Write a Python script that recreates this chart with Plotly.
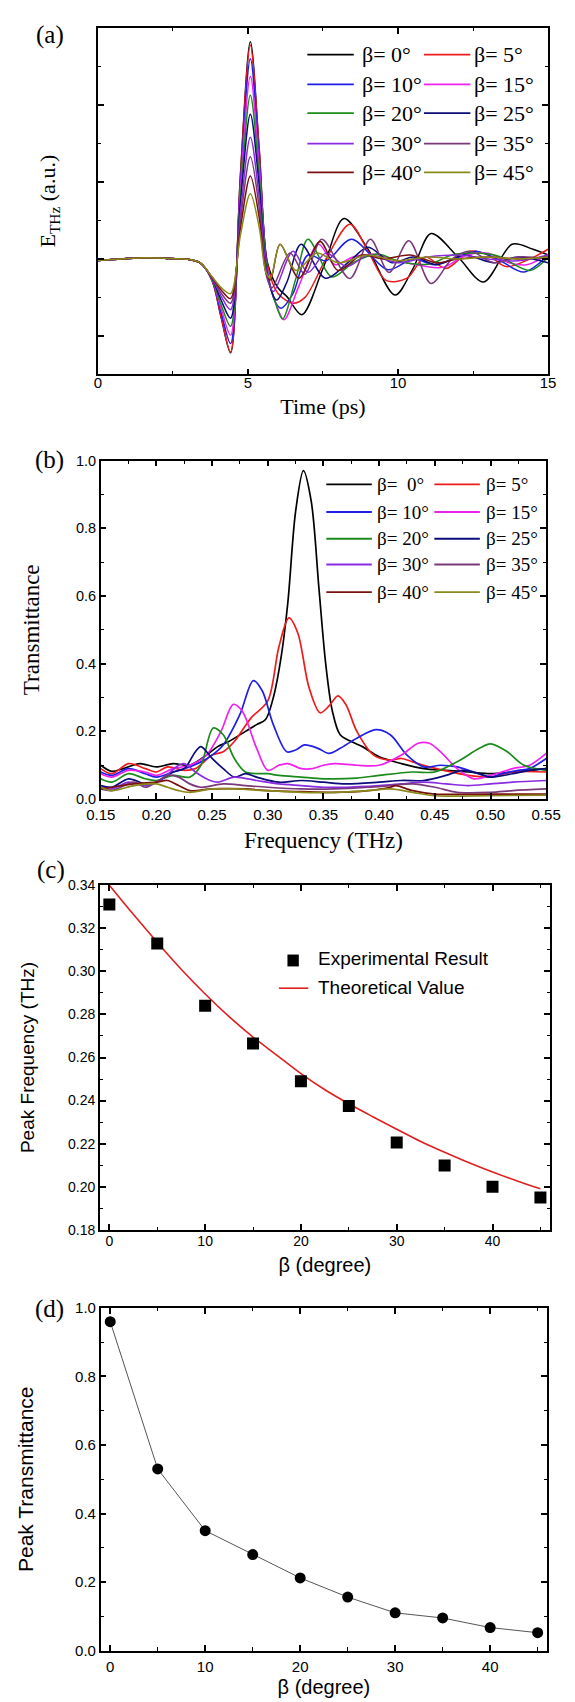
import plotly.graph_objects as go

W, H = 575, 1702

# ---------------- Panel (a): THz time-domain waveforms ----------------
betas = [0, 5, 10, 15, 20, 25, 30, 35, 40, 45]
colors = ["#000000", "#ee1c1c", "#1f1fe6", "#f020f0", "#1a8a1a",
          "#0b0b7a", "#8a2be2", "#7a3a7a", "#7a1010", "#8a8a1a"]

t_pulse = [0, 0.8, 1.6, 2.4, 3.0, 3.4, 3.8, 4.1, 4.42, 4.75, 5.08, 5.38]
pulse_b0 = [-0.04, 0.00, 0.03, 0.01, -0.01, -0.10, -0.55, -1.50, -2.44, 2.20, 5.64, 2.80]
pulse_b5 = [-0.04, 0.00, 0.03, 0.01, -0.01, -0.10, -0.55, -1.48, -2.42, 2.15, 5.55, 2.75]
pulse_b10 = [-0.04, 0.00, 0.03, 0.01, -0.01, -0.10, -0.54, -1.38, -2.20, 2.00, 5.20, 2.55]
pulse_b15 = [-0.04, 0.00, 0.03, 0.01, -0.01, -0.10, -0.53, -1.28, -1.98, 1.85, 4.74, 2.35]
pulse_b20 = [-0.04, 0.00, 0.03, 0.01, -0.01, -0.10, -0.52, -1.18, -1.75, 1.65, 4.25, 2.10]
pulse_b25 = [-0.04, 0.00, 0.03, 0.01, -0.01, -0.10, -0.50, -1.06, -1.54, 1.45, 3.76, 1.85]
pulse_b30 = [-0.04, 0.00, 0.03, 0.01, -0.01, -0.10, -0.49, -0.96, -1.32, 1.20, 3.16, 1.55]
pulse_b35 = [-0.04, 0.00, 0.03, 0.01, -0.01, -0.10, -0.48, -0.88, -1.15, 1.00, 2.65, 1.30]
pulse_b40 = [-0.04, 0.00, 0.03, 0.01, -0.01, -0.10, -0.47, -0.80, -1.03, 0.80, 2.15, 1.05]
pulse_b45 = [-0.04, 0.00, 0.03, 0.01, -0.01, -0.10, -0.46, -0.74, -0.90, 0.62, 1.69, 0.80]

tail_t_b0 = [5.65, 6.0, 6.3, 6.8, 7.5, 8.2, 9.0, 9.9, 10.5, 11.1, 12.0, 12.85, 13.8, 14.5, 15.0]
tail_y_b0 = [-0.10, -0.75, -0.98, -1.45, -0.25, 1.05, 0.25, -0.94, -0.25, 0.66, 0.05, -0.60, 0.38, 0.25, 0.10]
tail_t_b5 = [5.65, 6.0, 6.5, 6.9, 7.6, 8.4, 9.0, 9.6, 10.3, 10.9, 11.6, 12.4, 13.0, 13.6, 14.4, 15.0]
tail_y_b5 = [-0.15, -0.90, -1.15, -1.00, 0.00, 0.90, 0.20, -0.56, -0.50, 0.05, -0.25, 0.20, 0.10, -0.20, 0.00, 0.25]
tail_t_b10 = [5.65, 5.9, 6.1, 6.5, 7.0, 7.6, 8.45, 9.66, 10.5, 11.2, 12.0, 12.6, 13.3, 14.2, 15.0]
tail_y_b10 = [-0.30, -1.10, -1.28, -0.90, 0.10, -0.05, 0.51, -0.28, 0.00, -0.15, 0.05, 0.20, 0.00, -0.34, 0.10]
tail_t_b15 = [5.65, 5.9, 6.2, 6.7, 7.35, 7.9, 8.5, 9.2, 10.0, 10.8, 11.5, 12.3, 13.0, 13.7, 14.3, 15.0]
tail_y_b15 = [-0.40, -1.10, -1.58, -0.70, 0.38, -0.15, 0.05, 0.12, -0.05, -0.18, -0.22, 0.10, 0.15, -0.10, -0.15, 0.12]
tail_t_b20 = [5.65, 5.9, 6.15, 6.6, 7.0, 7.8, 8.5, 9.3, 10.1, 11.05, 11.8, 12.5, 13.3, 14.4, 15.0]
tail_y_b20 = [-0.40, -1.10, -1.56, -0.50, 0.51, -0.47, -0.10, 0.13, -0.08, -0.13, 0.10, 0.15, 0.08, -0.30, 0.05]
tail_t_b25 = [5.65, 5.96, 6.3, 6.77, 7.58, 8.4, 9.0, 9.8, 10.5, 11.3, 12.2, 13.2, 14.0, 15.0]
tail_y_b25 = [-0.45, -1.07, -0.60, 0.38, -0.50, -0.05, 0.30, -0.10, 0.05, -0.15, 0.10, -0.10, 0.05, -0.10]
tail_t_b30 = [5.65, 5.85, 6.5, 7.0, 7.6, 8.3, 9.0, 10.0, 11.0, 12.0, 13.0, 14.0, 15.0]
tail_y_b30 = [-0.50, -0.85, 0.20, -0.35, 0.15, -0.20, 0.10, -0.10, 0.05, 0.10, 0.00, -0.05, 0.10]
tail_t_b35 = [5.62, 5.8, 6.4, 6.9, 7.46, 8.39, 9.08, 9.7, 10.36, 11.1, 11.8, 12.4, 13.2, 14.0, 15.0]
tail_y_b35 = [-0.45, -0.75, 0.15, -0.40, 0.51, -0.51, 0.51, -0.35, 0.47, -0.64, 0.00, 0.20, -0.10, 0.05, 0.00]
tail_t_b40 = [5.6, 5.75, 6.07, 6.7, 7.4, 8.0, 8.8, 9.5, 10.4, 11.3, 12.0, 13.0, 14.0, 15.0]
tail_y_b40 = [-0.35, -0.55, 0.38, -0.50, 0.45, -0.30, 0.10, 0.00, 0.10, -0.10, 0.00, 0.05, 0.00, 0.05]
tail_t_b45 = [5.6, 5.75, 6.07, 6.6, 7.3, 8.0, 9.0, 10.0, 11.0, 12.0, 13.0, 14.0, 15.0]
tail_y_b45 = [-0.35, -0.50, 0.38, -0.30, 0.15, -0.10, 0.10, -0.05, 0.05, 0.00, 0.05, 0.00, 0.05]

pulses = [pulse_b0, pulse_b5, pulse_b10, pulse_b15, pulse_b20,
          pulse_b25, pulse_b30, pulse_b35, pulse_b40, pulse_b45]
tails_t = [tail_t_b0, tail_t_b5, tail_t_b10, tail_t_b15, tail_t_b20,
           tail_t_b25, tail_t_b30, tail_t_b35, tail_t_b40, tail_t_b45]
tails_y = [tail_y_b0, tail_y_b5, tail_y_b10, tail_y_b15, tail_y_b20,
           tail_y_b25, tail_y_b30, tail_y_b35, tail_y_b40, tail_y_b45]

# ---------------- Panel (b): transmittance spectra ----------------
f_b0 = [0.15, 0.16, 0.17, 0.185, 0.2, 0.215, 0.23, 0.245, 0.255, 0.265, 0.28, 0.29, 0.298, 0.305, 0.312, 0.318, 0.325, 0.332, 0.339, 0.346, 0.352, 0.358, 0.365, 0.375, 0.385, 0.40, 0.42, 0.44, 0.46, 0.48, 0.50, 0.52, 0.55]
T_b0 = [0.100, 0.082, 0.090, 0.105, 0.095, 0.105, 0.100, 0.130, 0.155, 0.170, 0.200, 0.220, 0.235, 0.300, 0.420, 0.580, 0.850, 0.970, 0.880, 0.620, 0.400, 0.260, 0.190, 0.170, 0.155, 0.125, 0.105, 0.090, 0.085, 0.080, 0.075, 0.080, 0.090]
f_b5 = [0.15, 0.16, 0.175, 0.19, 0.2, 0.21, 0.225, 0.235, 0.25, 0.26, 0.27, 0.285, 0.30, 0.31, 0.319, 0.327, 0.337, 0.347, 0.355, 0.363, 0.37, 0.38, 0.395, 0.41, 0.42, 0.43, 0.445, 0.465, 0.48, 0.50, 0.52, 0.55]
T_b5 = [0.090, 0.075, 0.105, 0.090, 0.080, 0.095, 0.085, 0.090, 0.130, 0.140, 0.170, 0.240, 0.290, 0.450, 0.535, 0.490, 0.330, 0.255, 0.275, 0.305, 0.280, 0.200, 0.130, 0.115, 0.120, 0.110, 0.095, 0.080, 0.070, 0.065, 0.080, 0.080]
f_b10 = [0.15, 0.16, 0.175, 0.19, 0.2, 0.215, 0.225, 0.24, 0.25, 0.26, 0.275, 0.287, 0.295, 0.305, 0.317, 0.325, 0.333, 0.345, 0.355, 0.365, 0.38, 0.397, 0.41, 0.425, 0.44, 0.455, 0.47, 0.485, 0.50, 0.51, 0.525, 0.535, 0.55]
T_b10 = [0.080, 0.070, 0.090, 0.075, 0.065, 0.080, 0.090, 0.110, 0.130, 0.160, 0.250, 0.350, 0.320, 0.220, 0.140, 0.145, 0.160, 0.150, 0.135, 0.150, 0.180, 0.205, 0.190, 0.130, 0.095, 0.100, 0.095, 0.080, 0.065, 0.075, 0.085, 0.090, 0.120]
f_b15 = [0.15, 0.16, 0.175, 0.19, 0.2, 0.215, 0.23, 0.245, 0.258, 0.269, 0.277, 0.29, 0.30, 0.31, 0.318, 0.33, 0.34, 0.35, 0.36, 0.38, 0.40, 0.42, 0.435, 0.445, 0.455, 0.47, 0.485, 0.50, 0.52, 0.535, 0.55]
T_b15 = [0.075, 0.065, 0.085, 0.080, 0.070, 0.090, 0.100, 0.130, 0.200, 0.280, 0.260, 0.150, 0.085, 0.100, 0.105, 0.090, 0.090, 0.100, 0.105, 0.100, 0.100, 0.130, 0.165, 0.165, 0.140, 0.090, 0.060, 0.070, 0.090, 0.100, 0.135]
f_b20 = [0.15, 0.16, 0.175, 0.19, 0.2, 0.215, 0.23, 0.24, 0.251, 0.26, 0.27, 0.28, 0.30, 0.31, 0.33, 0.35, 0.38, 0.40, 0.43, 0.45, 0.47, 0.49, 0.50, 0.515, 0.53, 0.55]
T_b20 = [0.060, 0.050, 0.075, 0.060, 0.055, 0.070, 0.065, 0.100, 0.210, 0.190, 0.120, 0.080, 0.075, 0.070, 0.065, 0.060, 0.062, 0.070, 0.080, 0.080, 0.110, 0.150, 0.163, 0.140, 0.100, 0.085]
f_b25 = [0.15, 0.16, 0.175, 0.19, 0.2, 0.215, 0.225, 0.235, 0.24, 0.25, 0.26, 0.27, 0.28, 0.29, 0.31, 0.33, 0.35, 0.37, 0.40, 0.42, 0.44, 0.46, 0.475, 0.49, 0.50, 0.52, 0.535, 0.55]
T_b25 = [0.040, 0.035, 0.060, 0.045, 0.050, 0.080, 0.090, 0.140, 0.155, 0.120, 0.090, 0.065, 0.075, 0.065, 0.050, 0.055, 0.050, 0.045, 0.050, 0.055, 0.055, 0.070, 0.085, 0.075, 0.065, 0.075, 0.085, 0.090]
f_b30 = [0.15, 0.16, 0.175, 0.19, 0.205, 0.22, 0.225, 0.235, 0.245, 0.255, 0.27, 0.29, 0.31, 0.33, 0.35, 0.37, 0.40, 0.42, 0.44, 0.46, 0.48, 0.50, 0.52, 0.55]
T_b30 = [0.035, 0.030, 0.050, 0.040, 0.060, 0.100, 0.105, 0.080, 0.060, 0.050, 0.065, 0.055, 0.045, 0.040, 0.035, 0.035, 0.040, 0.045, 0.050, 0.045, 0.040, 0.045, 0.050, 0.055]
f_b35 = [0.15, 0.16, 0.18, 0.19, 0.20, 0.21, 0.22, 0.23, 0.24, 0.26, 0.28, 0.30, 0.33, 0.36, 0.39, 0.41, 0.43, 0.45, 0.47, 0.50, 0.52, 0.55]
T_b35 = [0.030, 0.025, 0.050, 0.035, 0.050, 0.070, 0.065, 0.045, 0.035, 0.045, 0.040, 0.035, 0.030, 0.030, 0.035, 0.040, 0.045, 0.035, 0.020, 0.020, 0.025, 0.030]
f_b40 = [0.15, 0.16, 0.18, 0.20, 0.21, 0.22, 0.23, 0.25, 0.28, 0.30, 0.33, 0.36, 0.39, 0.41, 0.415, 0.43, 0.45, 0.50, 0.55]
T_b40 = [0.030, 0.035, 0.045, 0.050, 0.055, 0.040, 0.025, 0.030, 0.030, 0.025, 0.022, 0.020, 0.025, 0.035, 0.040, 0.025, 0.015, 0.015, 0.015]
f_b45 = [0.15, 0.16, 0.18, 0.20, 0.21, 0.22, 0.23, 0.25, 0.27, 0.30, 0.33, 0.36, 0.39, 0.41, 0.43, 0.45, 0.50, 0.55]
T_b45 = [0.035, 0.025, 0.040, 0.045, 0.035, 0.025, 0.020, 0.030, 0.030, 0.025, 0.020, 0.020, 0.025, 0.030, 0.020, 0.010, 0.010, 0.012]

freqs = [f_b0, f_b5, f_b10, f_b15, f_b20, f_b25, f_b30, f_b35, f_b40, f_b45]
trans = [T_b0, T_b5, T_b10, T_b15, T_b20, T_b25, T_b30, T_b35, T_b40, T_b45]

# ---------------- Panel (c): peak frequency ----------------
beta_pts = [0, 5, 10, 15, 20, 25, 30, 35, 40, 45]
peak_freq_exp = [0.331, 0.313, 0.284, 0.2665, 0.249, 0.2375, 0.2205, 0.2098, 0.200, 0.195]
beta_theory = [0, 2.5, 5, 7.5, 10, 12.5, 15, 17.5, 20, 22.5, 25, 27.5, 30, 32.5, 35, 37.5, 40, 42.5, 45]
peak_freq_theory = [0.340, 0.3265, 0.3135, 0.301, 0.2895, 0.279, 0.2695, 0.261, 0.2525, 0.245,
                    0.2385, 0.2325, 0.2267, 0.221, 0.216, 0.2112, 0.2068, 0.2028, 0.199]

# ---------------- Panel (d): peak transmittance ----------------
peak_trans = [0.96, 0.53, 0.35, 0.28, 0.212, 0.156, 0.11, 0.095, 0.067, 0.052]

# ---------------- text ----------------
legend_a_labels = ["β= 0°", "β= 5°", "β= 10°", "β= 15°", "β= 20°",
                   "β= 25°", "β= 30°", "β= 35°", "β= 40°", "β= 45°"]
legend_b_labels = ["β=\u00a0\u00a00°", "β= 5°", "β= 10°", "β= 15°", "β= 20°",
                   "β= 25°", "β= 30°", "β= 35°", "β= 40°", "β= 45°"]

SERIF = "Liberation Serif, Times New Roman, serif"
SANS = "Liberation Sans, Arial, sans-serif"


def px(x):
    return x / W


def py(y):
    return 1 - y / H


fig = go.Figure()

for i, b in enumerate(betas):
    fig.add_trace(go.Scatter(
        x=t_pulse + tails_t[i], y=pulses[i] + tails_y[i], mode="lines",
        line=dict(color=colors[i], width=1.5, shape="spline", smoothing=0.9),
        xaxis="x", yaxis="y", showlegend=False, name=legend_a_labels[i]))

for i, b in enumerate(betas):
    fig.add_trace(go.Scatter(
        x=freqs[i], y=trans[i], mode="lines",
        line=dict(color=colors[i], width=1.7, shape="spline", smoothing=0.9),
        xaxis="x2", yaxis="y2", showlegend=False, name=legend_b_labels[i]))

fig.add_trace(go.Scatter(
    x=beta_theory, y=peak_freq_theory, mode="lines",
    line=dict(color="#e02020", width=1.6, shape="spline"),
    xaxis="x3", yaxis="y3", showlegend=False, name="Theoretical Value"))
fig.add_trace(go.Scatter(
    x=beta_pts, y=peak_freq_exp, mode="markers",
    marker=dict(symbol="square", size=12, color="black"),
    xaxis="x3", yaxis="y3", showlegend=False, name="Experimental Result"))

fig.add_trace(go.Scatter(
    x=beta_pts, y=peak_trans, mode="lines+markers",
    line=dict(color="#555555", width=1),
    marker=dict(symbol="circle", size=11, color="black"),
    xaxis="x4", yaxis="y4", showlegend=False, name="Peak Transmittance"))


def axis(domain, rng, dtick, mdtick, anchor, fsize, tick0=0, **kw):
    d = dict(domain=domain, range=rng, dtick=dtick, tick0=tick0, anchor=anchor,
             showline=True, linecolor="black", linewidth=1.5, mirror="allticks",
             ticks="inside", ticklen=6, tickwidth=1.5, tickcolor="black",
             showgrid=False, zeroline=False,
             tickfont=dict(family=SANS, size=fsize, color="black"),
             minor=dict(ticks="inside", ticklen=3.5, tickwidth=1.2, tickcolor="black",
                        dtick=mdtick, tick0=tick0, showgrid=False))
    d.update(kw)
    return d


layout = dict(
    width=W, height=H, margin=dict(l=0, r=0, t=0, b=0),
    paper_bgcolor="white", plot_bgcolor="white", showlegend=False,
    xaxis=axis([px(79), px(554)], [0, 15], 5, 2.5, "y", 15,
               title=dict(text="Time (ps)", font=dict(family=SERIF, size=22, color="black"), standoff=8),
               ticklabelstandoff=-6),
    yaxis=axis([py(361), py(11)], [-3, 6], 2, 1, "x", 14, showticklabels=False,
               title=dict(text="E<sub>THz</sub> (a.u.)", font=dict(family=SERIF, size=22, color="black"), standoff=34)),
    xaxis2=axis([px(82), px(552)], [0.15, 0.55], 0.05, 0.025, "y2", 15, tick0=0.15, tickformat=".2f",
                title=dict(text="Frequency (THz)", font=dict(family=SERIF, size=23, color="black"), standoff=10),
                ticklabelstandoff=1),
    yaxis2=axis([py(790), py(448)], [0, 1], 0.2, 0.1, "x2", 14.5, tickformat=".1f",
                title=dict(text="Transmittance", font=dict(family=SERIF, size=23, color="black"), standoff=30)),
    xaxis3=axis([px(81), px(556)], [-1, 46], 10, 5, "y3", 14,
                title=dict(text="β (degree)", font=dict(family=SANS, size=20, color="black"), standoff=10),
                ticklabelstandoff=-2),
    yaxis3=axis([py(1225), py(877)], [0.18, 0.34], 0.02, 0.01, "x3", 14, tick0=0.18, tickformat=".2f",
                title=dict(text="Peak Frequency (THz)", font=dict(family=SANS, size=19, color="black"), standoff=28)),
    xaxis4=axis([px(82), px(553)], [-1, 46], 10, 5, "y4", 15,
                title=dict(text="β (degree)", font=dict(family=SANS, size=20, color="black"), standoff=6),
                ticklabelstandoff=2),
    yaxis4=axis([py(1650), py(1304)], [0, 1], 0.2, 0.1, "x4", 15, tickformat=".1f",
                title=dict(text="Peak Transmittance", font=dict(family=SANS, size=21, color="black"), standoff=36)),
)
fig.update_layout(**layout)

shapes = []
annotations = []

# panel labels
for lab, (x0, y0) in zip(["(a)", "(b)", "(c)", "(d)"], [(28, 18), (28, 447), (30, 862), (28, 1305)]):
    annotations.append(dict(text=lab, x=px(x0), y=py(y0), xref="paper", yref="paper",
                            xanchor="center", yanchor="middle", showarrow=False,
                            font=dict(family=SERIF, size=25, color="black")))

# legend (a)
rows_a = [38, 68, 97, 128, 157]
cols_a = [(300, 349, 356), (423, 472, 474)]
# legend (b)
rows_b = [472, 500, 527, 553, 581]
cols_b = [(320, 368, 371), (434, 482, 486)]

for rows, cols, labels, fs in [(rows_a, cols_a, legend_a_labels, 22), (rows_b, cols_b, legend_b_labels, 19)]:
    for i in range(10):
        c = i % 2
        r = i // 2
        x0, x1, xt = cols[c]
        yy = rows[r]
        shapes.append(dict(type="line", xref="paper", yref="paper",
                           x0=px(x0), x1=px(x1), y0=py(yy), y1=py(yy),
                           line=dict(color=colors[i], width=1.8)))
        annotations.append(dict(text=labels[i], x=px(xt), y=py(yy), xref="paper", yref="paper",
                                xanchor="left", yanchor="middle", showarrow=False,
                                font=dict(family=SERIF, size=fs, color="black")))

# legend (c)
shapes.append(dict(type="rect", xref="paper", yref="paper",
                   x0=px(279), x1=px(291), y0=py(959), y1=py(947),
                   fillcolor="black", line=dict(width=0)))
shapes.append(dict(type="line", xref="paper", yref="paper",
                   x0=px(270), x1=px(301), y0=py(981), y1=py(981),
                   line=dict(color="#e02020", width=1.6)))
annotations.append(dict(text="Experimental Result", x=px(309), y=py(951), xref="paper", yref="paper",
                        xanchor="left", yanchor="middle", showarrow=False,
                        font=dict(family=SANS, size=19, color="black")))
annotations.append(dict(text="Theoretical Value", x=px(309), y=py(980), xref="paper", yref="paper",
                        xanchor="left", yanchor="middle", showarrow=False,
                        font=dict(family=SANS, size=19, color="black")))

fig.update_layout(shapes=shapes, annotations=annotations)
fig.write_html("out.html")
